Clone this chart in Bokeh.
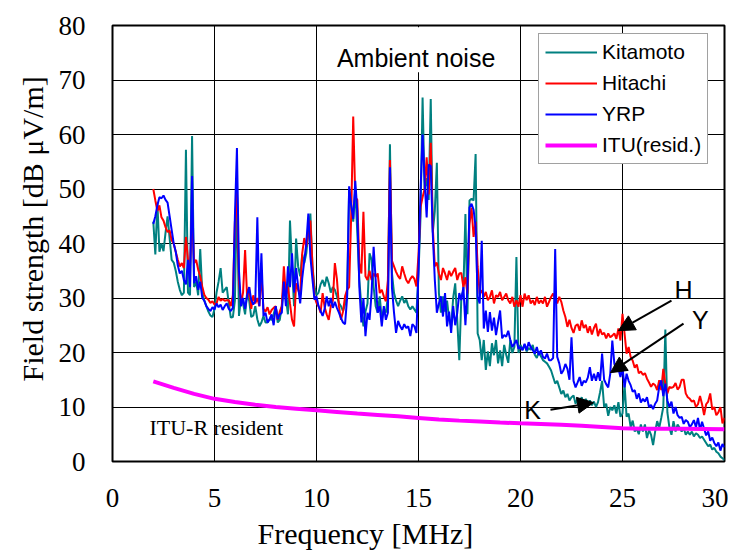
from bokeh.plotting import figure
from bokeh.models import (Range1d, FixedTicker, Legend, LegendItem, Label, Arrow,
                          NormalHead, BoxAnnotation, Title, ColumnDataSource)
from bokeh.embed import file_html
from bokeh.resources import INLINE

# ---------------- data ----------------
freq_mhz = [round(2.0 + 0.1 * i, 1) for i in range(281)]

kitamoto = [
    44.0, 38.0, 47.5, 38.5, 40.0, 38.6, 42.0, 45.0, 41.0, 37.0,
    36.5, 35.0, 33.0, 31.5, 30.5, 31.0, 57.2, 31.0, 30.5, 59.7,
    32.0, 33.0, 30.5, 39.0, 31.0, 29.5, 28.5, 27.5, 26.8, 26.5,
    28.0, 31.0, 33.0, 35.5, 31.0, 31.5, 32.0, 29.0, 26.4, 26.5,
    29.5, 50.0, 26.7, 30.0, 29.0, 27.0, 31.0, 29.5, 26.5, 26.8,
    28.5, 26.1, 24.8, 25.5, 26.7, 25.5, 25.5, 26.1, 26.0, 27.0,
    28.5, 25.5, 26.0, 28.5, 33.0, 30.0, 27.0, 44.2, 35.8, 28.5,
    40.9, 35.8, 34.0, 38.0, 36.4, 38.2, 42.0, 45.5, 36.0, 32.1,
    30.5, 31.0, 32.5, 33.3, 32.1, 33.9, 32.7, 31.0, 32.0, 31.5,
    30.3, 29.1, 28.5, 27.6, 28.8, 30.5, 50.0, 47.0, 44.0, 50.0,
    42.0, 33.3, 28.5, 24.8, 27.5, 29.0, 38.2, 37.0, 32.0, 28.5,
    27.3, 30.3, 26.0, 28.0, 27.3, 30.3, 58.2, 34.5, 30.9, 29.5,
    28.5, 29.5, 30.3, 29.1, 29.7, 28.5, 27.9, 28.5, 27.9, 27.3,
    34.5, 45.0, 66.8, 50.0, 52.0, 48.0, 66.5, 42.0, 46.0, 54.8,
    30.9, 27.3, 30.3, 27.5, 29.5, 26.1, 24.8, 30.0, 32.7, 25.9,
    18.6, 30.2, 31.4, 45.4, 27.0, 47.9, 48.2, 47.9, 56.4, 23.5,
    22.3, 18.6, 22.3, 16.8, 20.2, 17.5, 21.7, 19.5, 22.3, 18.0,
    20.4, 17.5, 21.4, 19.6, 18.1, 22.3, 19.9, 21.0, 37.5, 19.9,
    21.4, 20.5, 21.4, 20.2, 20.8, 20.5, 21.4, 19.6, 19.0, 20.2,
    19.3, 18.6, 18.3, 18.0, 17.4, 16.7, 15.5, 14.3, 14.8, 13.6,
    12.4, 13.0, 11.8, 12.4, 11.2, 11.8, 12.1, 10.6, 11.5, 10.9,
    11.8, 10.6, 11.5, 10.6, 11.2, 10.3, 11.0, 10.0, 10.9, 12.7,
    14.8, 10.0, 10.6, 8.4, 10.0, 9.4, 10.3, 8.8, 10.9, 8.2,
    8.8, 14.2, 8.2, 8.8, 6.3, 7.5, 5.5, 6.0, 5.0, 6.8,
    5.5, 6.8, 4.3, 5.8, 4.9, 3.0, 5.5, 7.4, 6.2, 8.0,
    10.0, 24.2, 9.0, 6.2, 4.9, 7.4, 5.5, 6.8, 6.2, 5.5,
    6.2, 4.9, 5.5, 4.9, 5.5, 4.6, 5.2, 4.9, 4.3, 4.6,
    4.0, 3.4, 2.8, 3.1, 2.2, 2.5, 1.8, 1.5, 0.9, 0.6,
    0.3,
]

hitachi = [
    50.0, 47.9, 46.0, 47.0, 44.8, 44.2, 43.0, 42.1, 42.4, 40.6,
    40.0, 38.5, 37.0, 35.8, 36.4, 35.5, 41.2, 37.0, 35.8, 45.0,
    36.4, 37.0, 35.2, 34.0, 32.1, 30.6, 30.0, 29.7, 29.1, 29.4,
    28.8, 29.0, 30.2, 29.5, 29.8, 29.5, 29.6, 29.6, 28.5, 30.5,
    44.0, 49.4, 33.0, 29.0, 31.0, 38.8, 30.0, 32.0, 28.0, 30.5,
    29.0, 30.0, 28.5, 34.5, 28.0, 27.5, 28.3, 27.0, 27.8, 28.2,
    28.5, 26.0, 27.5, 28.5, 35.8, 30.5, 32.1, 29.0, 26.0, 24.8,
    32.7, 31.5, 30.5, 38.2, 41.0, 39.4, 42.0, 44.2, 36.0, 30.3,
    29.1, 28.5, 27.3, 30.9, 28.3, 27.0, 26.0, 28.5, 29.5, 36.4,
    33.5, 28.5, 26.0, 27.5, 30.3, 31.5, 32.0, 45.0, 63.3, 48.5,
    48.0, 36.4, 34.5, 45.8, 34.0, 33.3, 35.0, 33.3, 34.5, 33.9,
    34.5, 30.9, 31.5, 30.3, 29.4, 33.3, 55.3, 36.8, 35.8, 34.8,
    34.0, 33.5, 35.8, 34.5, 33.3, 32.7, 33.5, 34.0, 33.5, 32.1,
    38.0, 46.7, 48.5, 50.0, 55.8, 49.0, 58.5, 43.0, 35.8, 36.5,
    34.5, 33.3, 35.5, 34.5, 33.3, 35.0, 34.0, 34.8, 35.5, 33.3,
    34.5, 34.6, 32.0, 33.8, 30.8, 43.6, 46.6, 41.2, 44.0, 35.7,
    30.8, 31.4, 30.2, 31.1, 29.6, 30.2, 31.4, 29.0, 30.5, 30.2,
    31.1, 29.6, 30.2, 30.8, 29.6, 29.0, 30.2, 28.4, 29.6, 28.4,
    30.5, 28.4, 30.8, 29.6, 30.5, 29.0, 29.6, 28.7, 30.2, 29.0,
    29.6, 29.0, 30.2, 28.4, 29.3, 30.2, 30.8, 29.9, 29.0, 30.2,
    29.3, 27.7, 26.5, 24.7, 26.0, 24.5, 23.6, 24.9, 25.2, 24.0,
    25.9, 24.5, 25.1, 23.6, 24.8, 23.3, 24.5, 25.3, 23.0, 24.3,
    23.3, 23.6, 22.6, 23.5, 22.8, 23.1, 23.5, 22.5, 24.4, 22.2,
    27.1, 23.5, 19.8, 21.0, 19.2, 18.5, 17.2, 17.8, 16.2, 16.5,
    15.9, 16.2, 15.2, 14.5, 13.7, 14.3, 14.0, 13.1, 14.9, 13.1,
    17.0, 14.3, 12.5, 13.7, 13.5, 13.7, 14.4, 13.2, 13.7, 15.0,
    15.0, 12.5, 11.8, 11.5, 11.0, 11.2, 10.0, 10.5, 12.0, 10.5,
    8.5, 10.5, 11.0, 12.5, 9.5, 10.0, 8.5, 9.0, 10.0, 7.0,
    8.0,
]

yrp = [
    43.6, 45.0, 47.0, 48.5, 48.3, 48.8, 48.0, 47.5, 45.0, 42.5,
    40.0, 38.5, 36.0, 34.5, 35.0, 33.3, 32.5, 37.0, 32.0, 52.4,
    32.7, 34.0, 31.5, 33.0, 30.0, 29.5, 28.5, 28.0, 27.6, 28.3,
    27.9, 29.0, 28.3, 28.8, 27.8, 28.5, 29.0, 28.0, 27.6, 28.2,
    45.0, 57.5, 35.0, 28.5, 30.0, 28.0, 30.5, 32.0, 29.7, 28.8,
    29.4, 44.8, 28.5, 38.2, 26.7, 27.3, 25.5, 26.1, 27.0, 25.0,
    28.5, 26.1, 27.0, 27.3, 33.0, 28.5, 35.8, 32.0, 38.2, 31.0,
    35.5, 32.1, 29.0, 33.6, 36.8, 40.0, 45.5, 37.6, 33.5, 29.7,
    30.3, 28.5, 27.6, 26.7, 28.0, 30.3, 28.5, 30.0, 28.2, 29.3,
    28.2, 27.3, 26.3, 25.5, 25.2, 30.0, 50.5, 47.0, 44.5, 51.5,
    46.0, 32.0, 25.5, 30.0, 23.0, 27.3, 26.0, 30.9, 39.4, 33.3,
    27.3, 28.5, 24.8, 28.5, 26.0, 27.3, 54.0, 31.8, 27.3, 23.6,
    25.8, 24.8, 24.2, 25.2, 24.5, 24.8, 23.0, 25.2, 24.8, 23.6,
    35.2, 49.7, 60.0, 51.5, 44.8, 54.5, 54.2, 41.8, 33.3, 27.3,
    29.0, 30.3, 26.6, 30.9, 24.8, 27.5, 23.6, 28.5, 25.0, 27.3,
    30.9, 29.6, 32.0, 25.0, 32.0, 46.6, 47.3, 46.2, 43.0, 30.2,
    29.0, 40.5, 24.4, 27.7, 23.8, 27.4, 24.0, 26.4, 23.2, 25.5,
    27.7, 22.6, 23.2, 22.9, 24.0, 22.3, 21.0, 21.6, 22.3, 20.7,
    21.0, 20.4, 21.6, 20.4, 21.9, 21.0, 20.4, 19.8, 21.0, 19.5,
    20.4, 19.2, 18.9, 19.8, 18.6, 18.6, 19.0, 39.0, 19.2, 18.0,
    16.1, 16.7, 17.9, 17.0, 15.0, 22.8, 14.8, 13.6, 14.5, 15.5,
    13.9, 14.8, 14.5, 15.4, 17.3, 14.8, 16.1, 14.8, 16.4, 14.8,
    19.8, 15.0, 14.2, 13.6, 16.1, 22.2, 18.0, 16.5, 17.0, 15.5,
    17.3, 13.6, 16.1, 14.8, 14.0, 12.8, 13.1, 11.5, 12.5, 10.8,
    11.5, 11.0, 11.8, 10.0, 10.4, 9.6, 10.6, 11.2, 13.7, 14.9,
    12.0, 14.3, 11.2, 10.0, 11.0, 8.8, 10.0, 8.5, 8.0, 8.2,
    6.9, 7.6, 7.3, 6.3, 6.8, 7.6, 6.3, 8.0, 5.8, 7.3,
    6.0, 4.8, 5.5, 3.8, 4.4, 3.4, 2.8, 3.5, 2.0, 3.2,
    2.6,
]

itu_freq = [2, 3, 4, 5, 6, 7, 8, 9, 10, 11, 12, 13, 14, 15, 16, 17, 18, 19, 20,
            21, 22, 23, 24, 25, 26, 27, 28, 29, 30]
itu_resid = [14.7, 13.5, 12.4, 11.5, 10.9, 10.4, 10.0, 9.7, 9.4, 9.1, 8.8, 8.55,
             8.3, 8.0, 7.7, 7.5, 7.35, 7.15, 7.0, 6.9, 6.75, 6.55, 6.35, 6.1,
             6.0, 6.0, 6.0, 5.95, 5.9]

x_ticks = [0, 5, 10, 15, 20, 25, 30]
y_ticks = [0, 10, 20, 30, 40, 50, 60, 70, 80]

assert len(kitamoto) == len(freq_mhz) == len(hitachi) == len(yrp)

# ---------------- figure ----------------
p = figure(width=728, height=554, output_backend="svg", toolbar_location=None,
           x_range=Range1d(0, 30), y_range=Range1d(0, 80),
           min_border_left=112, min_border_right=4, min_border_top=25,
           min_border_bottom=93)
p.background_fill_color = "white"
p.border_fill_color = "white"
p.outline_line_color = "black"
p.outline_line_width = 2

p.xaxis.ticker = FixedTicker(ticks=x_ticks)
p.yaxis.ticker = FixedTicker(ticks=y_ticks)
for g in (p.xgrid, p.ygrid):
    g.grid_line_color = "black"
    g.grid_line_width = 1
    g.grid_line_alpha = 1.0
for ax in (p.xaxis, p.yaxis):
    ax.axis_line_color = None
    ax.major_tick_line_color = None
    ax.minor_tick_line_color = None
    ax.major_tick_out = 0
    ax.major_tick_in = 0
    ax.minor_tick_out = 0
    ax.major_label_text_font = "Liberation Serif"
    ax.major_label_text_font_size = "27px"
    ax.major_label_text_color = "black"
p.xaxis.major_label_standoff = 27
p.yaxis.major_label_standoff = 27

src = ColumnDataSource(dict(f=freq_mhz, k=kitamoto, h=hitachi, y=yrp))
r_k = p.line("f", "k", source=src, line_color="#008080", line_width=2)
r_h = p.line("f", "h", source=src, line_color="#FF0000", line_width=2)
r_y = p.line("f", "y", source=src, line_color="#0000FF", line_width=2)
r_i = p.line(itu_freq, itu_resid, line_color="#FF00FF", line_width=4)

# title box
p.add_layout(BoxAnnotation(left=10.2, right=19.8, bottom=71.4, top=79.7,
                           fill_color="white", fill_alpha=1.0, line_color=None))
p.add_layout(Label(x=11.0, y=74.1, text="Ambient noise", text_font="Liberation Sans",
                   text_font_size="25px", text_color="black",
                   text_baseline="alphabetic"))

# legend
legend = Legend(items=[LegendItem(label="Kitamoto", renderers=[r_k]),
                       LegendItem(label="Hitachi", renderers=[r_h]),
                       LegendItem(label="YRP", renderers=[r_y]),
                       LegendItem(label="ITU(resid.)", renderers=[r_i])],
                location=(426, 297))
legend.label_text_font = "Liberation Sans"
legend.label_text_font_size = "21px"
legend.label_text_color = "black"
legend.glyph_width = 52
legend.glyph_height = 20
legend.label_height = 20
legend.spacing = 7
legend.padding = 6
legend.margin = 0
legend.label_standoff = 5
legend.border_line_color = "#444444"
legend.border_line_width = 1.5
legend.background_fill_color = "white"
legend.background_fill_alpha = 1.0
p.add_layout(legend)

# annotations
ann_font = "Liberation Sans"
for txt, xx, yy in [("H", 27.99, 31.4), ("Y", 28.82, 25.9), ("K", 20.59, 9.5)]:
    p.add_layout(Label(x=xx, y=yy, text=txt, text_font=ann_font, text_font_size="25px",
                       text_align="center", text_baseline="middle", text_color="black"))
for xs, ys, xe, ye in [(27.40, 29.5, 24.8, 24.0), (27.99, 25.3, 24.41, 16.3),
                       (21.47, 9.5, 23.58, 10.8)]:
    p.add_layout(Arrow(end=NormalHead(size=16, fill_color="black", line_color="black"),
                       x_start=xs, y_start=ys, x_end=xe, y_end=ye,
                       line_color="black", line_width=2))

p.add_layout(Label(x=1.81, y=6.2, text="ITU-R resident", text_font="Liberation Serif",
                   text_font_size="22px", text_baseline="middle", text_color="black"))

# axis titles
xt = Title(text="Frequency [MHz]", align="left", offset=145,
           text_font="Liberation Serif", text_font_size="30px",
           text_font_style="normal", text_color="black", standoff=10)
p.add_layout(xt, "below")
yt = Title(text="Field strength [dB \u03bcV/m]", align="left", offset=80,
           text_font="Liberation Serif", text_font_size="30px",
           text_font_style="normal", text_color="black", standoff=14)
p.add_layout(yt, "left")

open("out.html", "w").write(file_html(p, INLINE))
